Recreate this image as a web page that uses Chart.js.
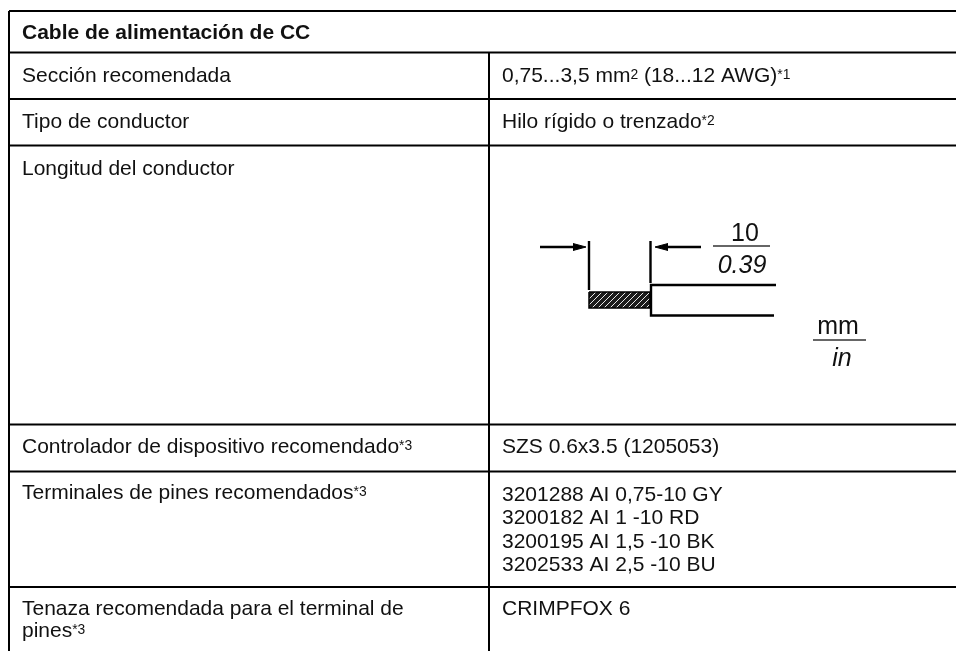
<!DOCTYPE html>
<html>
<head>
<meta charset="utf-8">
<title>Cable de alimentación de CC</title>
<script src="https://cdn.jsdelivr.net/npm/chart.js@4/dist/chart.umd.js"></script>
<style>
    html, body { margin: 0; padding: 0; background: #fff; }
    canvas { display: block; }
</style>
</head>
<body>
<canvas id="tabla" width="956" height="651"></canvas>
<script>
// ^...^ marks a superscript run
const titulo = "Cable de alimentación de CC";
const columnaIzq = [
    "Sección recomendada",
    "Tipo de conductor",
    "Longitud del conductor",
    "Controlador de dispositivo recomendado^*3^",
    "Terminales de pines recomendados^*3^",
    "Tenaza recomendada para el terminal de|pines^*3^"
];
const columnaDer = [
    "0,75...3,5 mm^2^ (18...12 AWG)^*1^",
    "Hilo rígido o trenzado^*2^",
    "",
    "SZS 0.6x3.5 (1205053)",
    "3201288 AI 0,75-10 GY|3200182 AI 1 -10 RD|3200195 AI 1,5 -10 BK|3202533 AI 2,5 -10 BU",
    "CRIMPFOX 6"
];

// table rules, in page units
const bordesFila = [11, 52.5, 99, 145.5, 424.5, 471.5, 587];
const bordesCol = [9, 489, 956];
const fondoTabla = 651;

// first baseline of each row
const lineaIzq = [82, 128.3, 174.5, 453.3, 499.3, 615];
const lineaDer = [81.7, 128.3, 174.5, 453.3, 501, 615];

// wire drawing
const cotaIzqX = [540, 577];
const cotaDerX = [664, 701];
const cotaY = [247, 247];
const puntaIzqX = [573, 586, 573];
const puntaDerX = [668, 655, 668];
const puntaY = [243.5, 247, 250.5];
const guia1X = [589, 589];
const guia1Y = [241, 290];
const guia2X = [650.5, 650.5];
const guia2Y = [241, 283];
const cableX = [776, 651, 651, 774];
const cableY = [285, 285, 315.5, 315.5];
const peladoX = [589, 650, 650, 589, 589];
const peladoY = [292, 292, 308, 308, 292];
const fraccion1X = [713, 770];
const fraccion1Y = [246, 246];
const fraccion2X = [813, 866];
const fraccion2Y = [340, 340];

function puntos(xs, ys) {
    return xs.map((x, i) => ({ x: x, y: ys[i] }));
}

function linea(xs, ys, ancho, color) {
    return {
        data: puntos(xs, ys),
        showLine: true,
        borderColor: color || '#000',
        borderWidth: ancho || 2,
        pointRadius: 0,
        fill: false,
        tension: 0
    };
}

function punta(xs) {
    var ds = linea(xs, puntaY, 1);
    ds.fill = 'shape';
    ds.backgroundColor = '#000';
    return ds;
}

function rayado() {
    var c = document.createElement('canvas');
    c.width = 6;
    c.height = 6;
    var g = c.getContext('2d');
    g.fillStyle = '#1c1c1c';
    g.fillRect(0, 0, 6, 6);
    g.strokeStyle = '#e8e8e8';
    g.lineWidth = 1;
    g.beginPath();
    g.moveTo(-1, 7);
    g.lineTo(7, -1);
    g.moveTo(-4, 4);
    g.lineTo(4, -4);
    g.moveTo(2, 10);
    g.lineTo(10, 2);
    g.stroke();
    return document.getElementById('tabla').getContext('2d').createPattern(c, 'repeat');
}

const datasets = [];
bordesFila.forEach(y => {
    datasets.push(linea([bordesCol[0], bordesCol[2]], [y, y]));
});
datasets.push(linea([bordesCol[0], bordesCol[0]], [bordesFila[0], fondoTabla]));
datasets.push(linea([bordesCol[1], bordesCol[1]], [bordesFila[1], fondoTabla]));

datasets.push(linea(cotaIzqX, cotaY, 2.4));
datasets.push(linea(cotaDerX, cotaY, 2.4));
datasets.push(punta(puntaIzqX));
datasets.push(punta(puntaDerX));
datasets.push(linea(guia1X, guia1Y, 2.4));
datasets.push(linea(guia2X, guia2Y, 2.4));
datasets.push(linea(cableX, cableY, 2.4));
var pelado = linea(peladoX, peladoY, 1.5);
pelado.fill = 'shape';
pelado.backgroundColor = rayado();
datasets.push(pelado);
datasets.push(linea(fraccion1X, fraccion1Y, 1.5, '#333'));
datasets.push(linea(fraccion2X, fraccion2Y, 1.5, '#333'));

const FUENTE = '"Liberation Sans", Arial, sans-serif';

// writes a line with its ^superscript^ runs, x is the left edge in page units
function escribir(ctx, texto, x, y, size, peso) {
    texto.split('^').forEach((trozo, i) => {
        var sup = i % 2 === 1;
        ctx.font = (peso || '') + ' ' + (sup ? size * 0.66 : size) + 'px ' + FUENTE;
        ctx.fillText(trozo, x, sup ? y - size * 0.15 : y);
        x += ctx.measureText(trozo).width;
    });
}

const textos = {
    id: 'textos',
    afterDatasetsDraw(chart) {
        const ctx = chart.ctx;
        const sx = chart.scales.x;
        const sy = chart.scales.y;
        ctx.save();
        ctx.fillStyle = '#111';
        ctx.textBaseline = 'alphabetic';
        ctx.textAlign = 'left';
        escribir(ctx, titulo, sx.getPixelForValue(22), sy.getPixelForValue(bordesFila[0] + 28.3), 21, 'bold');
        columnaIzq.forEach((t, i) => {
            t.split('|').forEach((l, j) => {
                escribir(ctx, l, sx.getPixelForValue(22), sy.getPixelForValue(lineaIzq[i] + j * 22), 21);
            });
        });
        columnaDer.forEach((t, i) => {
            t.split('|').forEach((l, j) => {
                escribir(ctx, l, sx.getPixelForValue(502), sy.getPixelForValue(lineaDer[i] + j * 23.3), 21);
            });
        });

        ctx.textAlign = 'center';
        ctx.font = '25px ' + FUENTE;
        ctx.fillText('10', sx.getPixelForValue(745), sy.getPixelForValue(241));
        ctx.fillText('mm', sx.getPixelForValue(838), sy.getPixelForValue(334));
        ctx.font = 'italic 25px ' + FUENTE;
        ctx.fillText('0.39', sx.getPixelForValue(742), sy.getPixelForValue(272.5));
        ctx.fillText('in', sx.getPixelForValue(842), sy.getPixelForValue(365.5));
        ctx.restore();
    }
};

new Chart(document.getElementById('tabla'), {
    type: 'scatter',
    data: { datasets: datasets },
    plugins: [textos],
    options: {
        responsive: false,
        animation: false,
        layout: { padding: 0 },
        plugins: { legend: { display: false }, tooltip: { enabled: false }, title: { display: false } },
        scales: {
            x: { type: 'linear', display: false, min: 0, max: 956 },
            y: { type: 'linear', display: false, min: 0, max: 651, reverse: true }
        }
    }
});
</script>
</body>
</html>
